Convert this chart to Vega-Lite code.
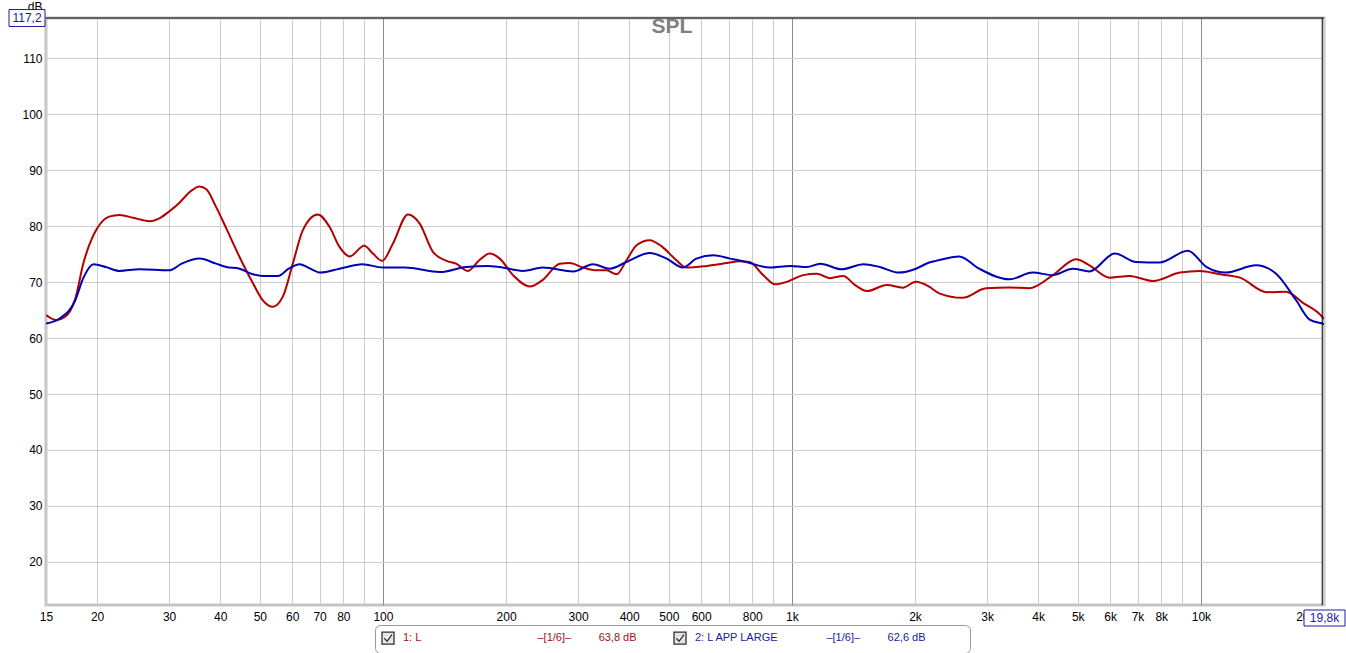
{
  "$schema": "https://vega.github.io/schema/vega-lite/v6.json",
  "width": 1278,
  "height": 587,
  "autosize": {"type": "none"},
  "padding": {"left": 46, "top": 18, "right": 22, "bottom": 48},
  "background": "white",
  "config": {"view": {"stroke": "#c4c4c4", "strokeWidth": 3}, "font": "Liberation Sans"},
  "title": {"text": "SPL", "frame": "group", "anchor": "middle", "dx": -13, "offset": -37, "baseline": "top", "fontSize": 21, "fontWeight": "bold", "color": "#808080", "font": "Liberation Sans"},
  "data": {"values": [
    {"s": "1: L", "f": 15, "db": 64.1}, {"s": "1: L", "f": 15.9, "db": 63.2}, {"s": "1: L", "f": 16.7, "db": 63.8}, {"s": "1: L", "f": 17.7, "db": 67.1}, {"s": "1: L", "f": 18.5, "db": 73.3}, {"s": "1: L", "f": 19.5, "db": 78.1}, {"s": "1: L", "f": 20, "db": 79.6}, {"s": "1: L", "f": 21.4, "db": 81.7}, {"s": "1: L", "f": 22.7, "db": 82.0}, {"s": "1: L", "f": 24.5, "db": 81.5}, {"s": "1: L", "f": 26.9, "db": 80.9}, {"s": "1: L", "f": 28.4, "db": 81.4}, {"s": "1: L", "f": 30.1, "db": 82.7}, {"s": "1: L", "f": 31.8, "db": 84.2}, {"s": "1: L", "f": 33.7, "db": 86.1}, {"s": "1: L", "f": 35.6, "db": 87.1}, {"s": "1: L", "f": 37.0, "db": 86.6}, {"s": "1: L", "f": 39.1, "db": 83.4}, {"s": "1: L", "f": 41.4, "db": 79.6}, {"s": "1: L", "f": 44.6, "db": 74.5}, {"s": "1: L", "f": 48.1, "db": 69.8}, {"s": "1: L", "f": 50.8, "db": 66.8}, {"s": "1: L", "f": 53.8, "db": 65.6}, {"s": "1: L", "f": 56.9, "db": 67.4}, {"s": "1: L", "f": 60.2, "db": 73.3}, {"s": "1: L", "f": 63.7, "db": 79.3}, {"s": "1: L", "f": 69.3, "db": 82.1}, {"s": "1: L", "f": 74.0, "db": 79.9}, {"s": "1: L", "f": 78.3, "db": 76.3}, {"s": "1: L", "f": 82.9, "db": 74.6}, {"s": "1: L", "f": 90.0, "db": 76.5}, {"s": "1: L", "f": 94.5, "db": 75.1}, {"s": "1: L", "f": 99.6, "db": 73.8}, {"s": "1: L", "f": 105.8, "db": 76.9}, {"s": "1: L", "f": 115.1, "db": 82.1}, {"s": "1: L", "f": 122.9, "db": 80.5}, {"s": "1: L", "f": 132.5, "db": 75.4}, {"s": "1: L", "f": 143, "db": 73.8}, {"s": "1: L", "f": 151, "db": 73.3}, {"s": "1: L", "f": 161, "db": 72.0}, {"s": "1: L", "f": 172, "db": 73.9}, {"s": "1: L", "f": 182.4, "db": 75.1}, {"s": "1: L", "f": 193, "db": 74.2}, {"s": "1: L", "f": 208, "db": 71.25}, {"s": "1: L", "f": 228.6, "db": 69.2}, {"s": "1: L", "f": 246, "db": 70.4}, {"s": "1: L", "f": 270.6, "db": 73.3}, {"s": "1: L", "f": 286, "db": 73.4}, {"s": "1: L", "f": 308.5, "db": 72.6}, {"s": "1: L", "f": 332.6, "db": 72.1}, {"s": "1: L", "f": 352, "db": 72.1}, {"s": "1: L", "f": 372.7, "db": 71.4}, {"s": "1: L", "f": 394, "db": 73.9}, {"s": "1: L", "f": 417, "db": 76.6}, {"s": "1: L", "f": 449, "db": 77.5}, {"s": "1: L", "f": 482, "db": 76.3}, {"s": "1: L", "f": 522, "db": 73.9}, {"s": "1: L", "f": 552, "db": 72.6}, {"s": "1: L", "f": 620, "db": 72.9}, {"s": "1: L", "f": 693, "db": 73.4}, {"s": "1: L", "f": 745, "db": 73.75}, {"s": "1: L", "f": 788, "db": 73.6}, {"s": "1: L", "f": 851, "db": 71.25}, {"s": "1: L", "f": 910, "db": 69.6}, {"s": "1: L", "f": 971, "db": 70.05}, {"s": "1: L", "f": 1066, "db": 71.25}, {"s": "1: L", "f": 1150, "db": 71.5}, {"s": "1: L", "f": 1238, "db": 70.7}, {"s": "1: L", "f": 1335, "db": 71.1}, {"s": "1: L", "f": 1425, "db": 69.5}, {"s": "1: L", "f": 1525, "db": 68.4}, {"s": "1: L", "f": 1707, "db": 69.5}, {"s": "1: L", "f": 1867, "db": 69.0}, {"s": "1: L", "f": 2010, "db": 70.05}, {"s": "1: L", "f": 2165, "db": 69.2}, {"s": "1: L", "f": 2292, "db": 68.0}, {"s": "1: L", "f": 2614, "db": 67.2}, {"s": "1: L", "f": 2982, "db": 68.9}, {"s": "1: L", "f": 3402, "db": 69.05}, {"s": "1: L", "f": 3805, "db": 68.9}, {"s": "1: L", "f": 4345, "db": 71.25}, {"s": "1: L", "f": 4956, "db": 74.1}, {"s": "1: L", "f": 5338, "db": 73.0}, {"s": "1: L", "f": 5980, "db": 70.8}, {"s": "1: L", "f": 6695, "db": 71.1}, {"s": "1: L", "f": 7640, "db": 70.2}, {"s": "1: L", "f": 8890, "db": 71.7}, {"s": "1: L", "f": 9950, "db": 72.0}, {"s": "1: L", "f": 11140, "db": 71.4}, {"s": "1: L", "f": 12470, "db": 70.8}, {"s": "1: L", "f": 14490, "db": 68.2}, {"s": "1: L", "f": 16150, "db": 68.3}, {"s": "1: L", "f": 17770, "db": 66.3}, {"s": "1: L", "f": 19800, "db": 63.8}, {"s": "1: L", "f": 20000, "db": 63.4},
    {"s": "2: L APP LARGE", "f": 15, "db": 62.6}, {"s": "2: L APP LARGE", "f": 16.2, "db": 63.5}, {"s": "2: L APP LARGE", "f": 17.7, "db": 66.8}, {"s": "2: L APP LARGE", "f": 18.5, "db": 70.7}, {"s": "2: L APP LARGE", "f": 19.6, "db": 73.2}, {"s": "2: L APP LARGE", "f": 21.0, "db": 72.7}, {"s": "2: L APP LARGE", "f": 22.7, "db": 72.0}, {"s": "2: L APP LARGE", "f": 25.4, "db": 72.3}, {"s": "2: L APP LARGE", "f": 30, "db": 72.1}, {"s": "2: L APP LARGE", "f": 32.2, "db": 73.3}, {"s": "2: L APP LARGE", "f": 35.6, "db": 74.2}, {"s": "2: L APP LARGE", "f": 39.1, "db": 73.3}, {"s": "2: L APP LARGE", "f": 41.4, "db": 72.7}, {"s": "2: L APP LARGE", "f": 44.6, "db": 72.4}, {"s": "2: L APP LARGE", "f": 48.1, "db": 71.4}, {"s": "2: L APP LARGE", "f": 50.8, "db": 71.1}, {"s": "2: L APP LARGE", "f": 55.4, "db": 71.1}, {"s": "2: L APP LARGE", "f": 58.8, "db": 72.4}, {"s": "2: L APP LARGE", "f": 62.6, "db": 73.2}, {"s": "2: L APP LARGE", "f": 65.6, "db": 72.6}, {"s": "2: L APP LARGE", "f": 70.4, "db": 71.7}, {"s": "2: L APP LARGE", "f": 78.3, "db": 72.4}, {"s": "2: L APP LARGE", "f": 89.1, "db": 73.2}, {"s": "2: L APP LARGE", "f": 100, "db": 72.6}, {"s": "2: L APP LARGE", "f": 113.3, "db": 72.6}, {"s": "2: L APP LARGE", "f": 137.8, "db": 71.8}, {"s": "2: L APP LARGE", "f": 159.5, "db": 72.7}, {"s": "2: L APP LARGE", "f": 180.6, "db": 72.9}, {"s": "2: L APP LARGE", "f": 193, "db": 72.7}, {"s": "2: L APP LARGE", "f": 220, "db": 72.0}, {"s": "2: L APP LARGE", "f": 246, "db": 72.6}, {"s": "2: L APP LARGE", "f": 292, "db": 71.9}, {"s": "2: L APP LARGE", "f": 326, "db": 73.2}, {"s": "2: L APP LARGE", "f": 359, "db": 72.4}, {"s": "2: L APP LARGE", "f": 394, "db": 73.6}, {"s": "2: L APP LARGE", "f": 449, "db": 75.2}, {"s": "2: L APP LARGE", "f": 494, "db": 74.2}, {"s": "2: L APP LARGE", "f": 541, "db": 72.6}, {"s": "2: L APP LARGE", "f": 584, "db": 74.2}, {"s": "2: L APP LARGE", "f": 643, "db": 74.8}, {"s": "2: L APP LARGE", "f": 706, "db": 74.2}, {"s": "2: L APP LARGE", "f": 773, "db": 73.6}, {"s": "2: L APP LARGE", "f": 883, "db": 72.6}, {"s": "2: L APP LARGE", "f": 990, "db": 72.9}, {"s": "2: L APP LARGE", "f": 1088, "db": 72.7}, {"s": "2: L APP LARGE", "f": 1173, "db": 73.3}, {"s": "2: L APP LARGE", "f": 1323, "db": 72.3}, {"s": "2: L APP LARGE", "f": 1495, "db": 73.2}, {"s": "2: L APP LARGE", "f": 1640, "db": 72.7}, {"s": "2: L APP LARGE", "f": 1825, "db": 71.7}, {"s": "2: L APP LARGE", "f": 2010, "db": 72.4}, {"s": "2: L APP LARGE", "f": 2165, "db": 73.5}, {"s": "2: L APP LARGE", "f": 2250, "db": 73.8}, {"s": "2: L APP LARGE", "f": 2566, "db": 74.6}, {"s": "2: L APP LARGE", "f": 2870, "db": 72.4}, {"s": "2: L APP LARGE", "f": 3402, "db": 70.5}, {"s": "2: L APP LARGE", "f": 3880, "db": 71.7}, {"s": "2: L APP LARGE", "f": 4345, "db": 71.25}, {"s": "2: L APP LARGE", "f": 4860, "db": 72.4}, {"s": "2: L APP LARGE", "f": 5338, "db": 71.9}, {"s": "2: L APP LARGE", "f": 6158, "db": 75.1}, {"s": "2: L APP LARGE", "f": 6948, "db": 73.6}, {"s": "2: L APP LARGE", "f": 7925, "db": 73.5}, {"s": "2: L APP LARGE", "f": 9288, "db": 75.6}, {"s": "2: L APP LARGE", "f": 10330, "db": 72.7}, {"s": "2: L APP LARGE", "f": 11500, "db": 71.7}, {"s": "2: L APP LARGE", "f": 13640, "db": 73.0}, {"s": "2: L APP LARGE", "f": 15270, "db": 71.5}, {"s": "2: L APP LARGE", "f": 17080, "db": 66.8}, {"s": "2: L APP LARGE", "f": 18450, "db": 63.3}, {"s": "2: L APP LARGE", "f": 19800, "db": 62.6}, {"s": "2: L APP LARGE", "f": 20000, "db": 62.5}
  ]},
  "layer": [
    {
      "mark": {"type": "line", "interpolate": "monotone", "strokeWidth": 2, "clip": true},
      "encoding": {
        "x": {"field": "f", "type": "quantitative",
          "scale": {"type": "log", "domain": [15, 20000], "nice": false},
          "axis": {"values": [15, 20, 30, 40, 50, 60, 70, 80, 90, 100, 200, 300, 400, 500, 600, 700, 800, 900, 1000, 2000, 3000, 4000, 5000, 6000, 7000, 8000, 9000, 10000, 20000],
            "labelExpr": "indexof([90,700,900,9000], datum.value) >= 0 ? '' : datum.value >= 1000 ? (datum.value/1000) + 'k' : '' + datum.value",
            "ticks": false, "tickSize": 0, "domain": false, "grid": true,
            "gridColor": {"condition": {"test": "datum.value == 100 || datum.value == 1000 || datum.value == 10000", "value": "#8c8c8c"}, "value": "#cccccc"},
            "labelAlign": {"condition": {"test": "datum.value == 20000", "value": "right"}, "value": "center"},
            "labelOffset": {"condition": {"test": "datum.value == 20000", "value": -9}, "value": 0},
            "gridOpacity": 1, "labelFontSize": 12, "labelColor": "#000000", "labelPadding": 6, "labelFlush": false, "labelOverlap": false, "labelBound": false, "title": null}},
        "y": {"field": "db", "type": "quantitative",
          "scale": {"domain": [12.3, 117.2], "nice": false, "zero": false},
          "axis": {"values": [20, 30, 40, 50, 60, 70, 80, 90, 100, 110], "ticks": false, "tickSize": 0, "domain": false, "grid": true, "gridColor": "#cccccc", "gridOpacity": 1,
            "labelFontSize": 12, "labelColor": "#000000", "labelPadding": 4, "labelFlush": false, "labelOverlap": false,
            "title": "dB", "titleAngle": 0, "titleAlign": "right", "titleBaseline": "middle", "titleX": -4, "titleY": -12, "titleFontSize": 12, "titleFontWeight": "normal", "titleColor": "#000000"}},
        "color": {"field": "s", "type": "nominal",
          "scale": {"domain": ["1: L", "2: L APP LARGE"], "range": ["#b30000", "#0000b4"]},
          "legend": null}
      }
    },
    {
      "data": {"values": [{"k": "1: L"}, {"k": "2: L APP LARGE"}]},
      "mark": {"type": "point", "filled": true, "size": 0, "stroke": "#303030"},
      "encoding": {
        "fill": {"field": "k", "type": "nominal",
          "scale": {"domain": ["2: L APP LARGE", "1: L"], "range": ["#e4e4e4", "#e6e6e6"]},
          "legend": {"orient": "none", "legendX": 329, "legendY": 607, "direction": "horizontal", "title": null,
            "values": ["1: L", "2: L APP LARGE"],
            "symbolType": "M-1,-1H1V1H-1Z M-0.6,0L-0.15,0.5L0.65,-0.6", "symbolSize": 144, "symbolStrokeWidth": 1.3, "symbolStrokeColor": "#303030", "symbolOpacity": 1,
            "labelOffset": 8, "labelFontSize": 11, "labelFont": "Liberation Sans", "labelLimit": 0, "columnPadding": 0, "padding": 6,
            "strokeColor": "#9a9a9a", "fillColor": "white", "cornerRadius": 5,
            "labelExpr": "datum.value == '1: L' ? pad('1: L', 42, '\u00a0') + '–[1/6]–' + pad('', 9, '\u00a0') + '63,8 dB' + pad('', 11, '\u00a0') + '\u200b' : pad('2: L APP LARGE', 30, '\u00a0') + '–[1/6]–' + pad('', 9, '\u00a0') + '62,6 dB' + pad('', 12, '\u00a0') + '\u200b'",
            "labelColor": {"expr": "datum.value == '1: L' ? '#a01010' : '#1a1aa0'"}}}
      }
    },
    {"data": {"values": [{}]}, "mark": {"type": "rule", "color": "#000000", "strokeWidth": 1}, "encoding": {"y": {"datum": 117.2}}},
    {"data": {"values": [{}]}, "mark": {"type": "rule", "color": "#000000", "strokeWidth": 1}, "encoding": {"x": {"datum": 19800}}},
    {"data": {"values": [{}]}, "mark": {"type": "point", "shape": "M-1,-0.47H1V0.47H-1Z", "size": 1296, "filled": true, "fill": "white", "stroke": "#1a1aa0", "strokeWidth": 1, "opacity": 1, "xOffset": -19}, "encoding": {"x": {"datum": 15}, "y": {"datum": 117.2}}},
    {"data": {"values": [{}]}, "mark": {"type": "text", "text": "117,2", "fontSize": 12, "color": "#1a1aa0", "xOffset": -19, "align": "center", "baseline": "middle"}, "encoding": {"x": {"datum": 15}, "y": {"datum": 117.2}}},
    {"data": {"values": [{}]}, "mark": {"type": "point", "shape": "M-1,-0.39H1V0.39H-1Z", "size": 1681, "filled": true, "fill": "white", "stroke": "#1a1aa0", "strokeWidth": 1, "opacity": 1, "xOffset": 2.3, "yOffset": 13}, "encoding": {"x": {"datum": 19800}, "y": {"datum": 12.3}}},
    {"data": {"values": [{}]}, "mark": {"type": "text", "text": "19,8k", "fontSize": 12, "color": "#1a1aa0", "xOffset": 2.3, "yOffset": 13, "align": "center", "baseline": "middle"}, "encoding": {"x": {"datum": 19800}, "y": {"datum": 12.3}}}
  ]
}
